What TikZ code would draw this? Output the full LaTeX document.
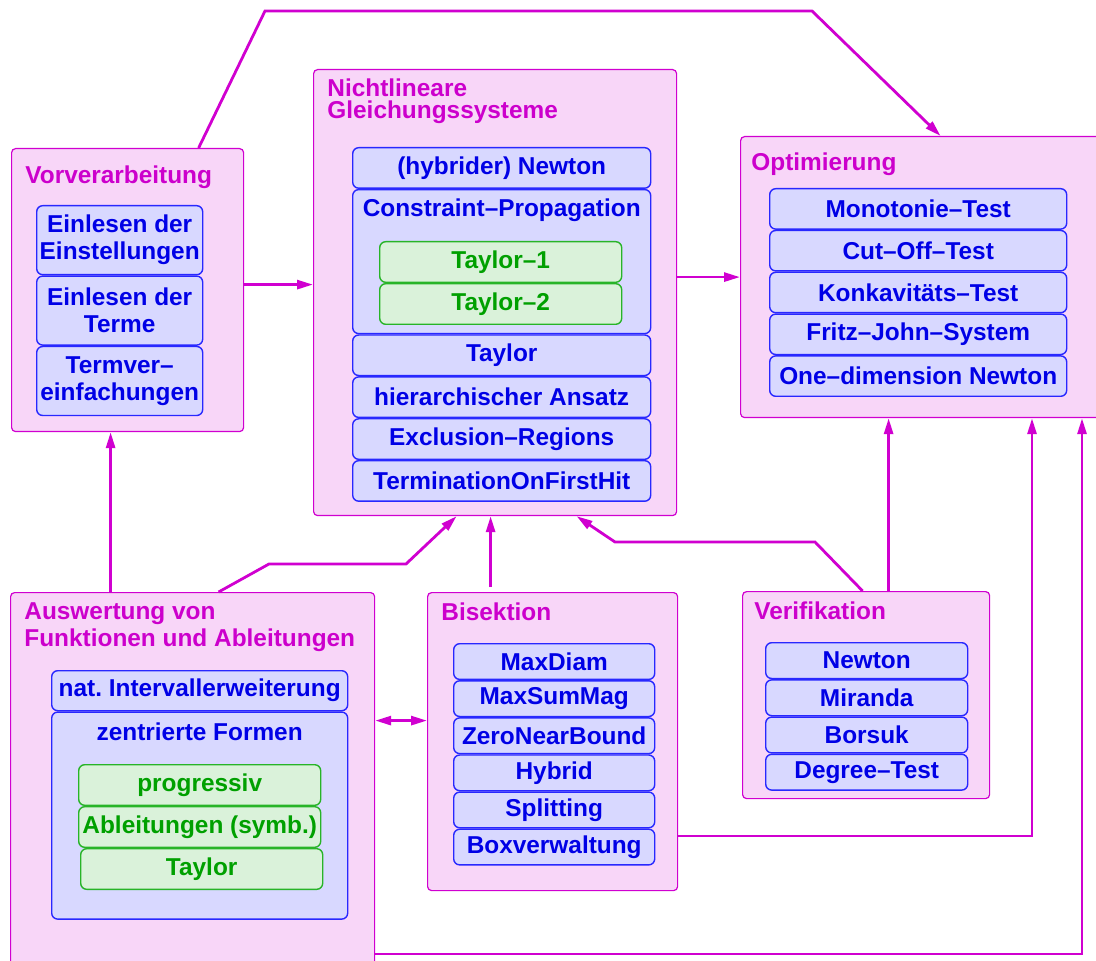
\documentclass[tikz,border=0pt]{standalone}
\usepackage{fontspec}
\setmainfont{Liberation Sans}
\usetikzlibrary{arrows.meta, positioning}
\definecolor{linemag}{RGB}{208,0,208}
\definecolor{titlemag}{RGB}{204,0,204}
\definecolor{grouppink}{RGB}{248,214,248}
\definecolor{itemfill}{RGB}{216,216,255}
\definecolor{itemline}{RGB}{40,40,255}
\definecolor{itemtext}{RGB}{0,0,230}
\definecolor{subfill}{RGB}{218,242,218}
\definecolor{subline}{RGB}{40,180,40}
\definecolor{subtext}{RGB}{0,160,0}
\newcommand{\boxfont}{\fontsize{12.2}{13.5}\selectfont\bfseries}
\frenchspacing
\tikzstyle{group} = [rectangle, draw=linemag, fill=grouppink, line width=0.6pt, rounded corners=2pt, anchor=north west, inner sep=0pt]
\tikzstyle{title} = [anchor=north west, align=left, inner sep=0pt, text=titlemag, font=\boxfont]
\tikzstyle{item} = [rectangle, draw=itemline, fill=itemfill, line width=0.7pt, rounded corners=3pt, align=center, inner sep=0pt, text=itemtext, font=\boxfont]
\tikzstyle{subitem} = [item, draw=subline, fill=subfill, text=subtext]
\tikzstyle{itemlabel} = [anchor=base, inner sep=0pt, text=itemtext, font=\boxfont]
\tikzstyle{vorbox} = [item, minimum width=83pt, minimum height=34.5pt]
\tikzstyle{nichtbox} = [item, minimum width=149pt, minimum height=20.25pt]
\tikzstyle{optbox} = [item, minimum width=148.5pt, minimum height=20.2pt]
\tikzstyle{bisbox} = [item, minimum width=100.5pt, minimum height=17.85pt]
\tikzstyle{verbox} = [item, minimum width=101pt, minimum height=17.9pt]
\tikzstyle{greenbox} = [subitem, minimum width=121pt, minimum height=20.3pt]
\tikzstyle{arrow} = [draw=linemag, line width=1.4pt, -{Triangle[length=8pt, width=4.5pt]}]
\tikzstyle{biarrow} = [draw=linemag, line width=1.4pt, {Triangle[length=8pt, width=4.5pt]}-{Triangle[length=8pt, width=4.5pt]}]
\begin{document}
\begin{tikzpicture}[x=0.5pt, y=-0.5pt]
    \useasboundingbox (0,0) rectangle (1096,961);

    % Groups
    \node (vor)   [group, minimum width=116pt, minimum height=141.5pt] at (11,148) {};
    \node (nicht) [group, minimum width=181.5pt, minimum height=223pt] at (313,69) {};
    \node (opt)   [group, minimum width=190pt, minimum height=140.5pt] at (740,136) {};
    \node (aus)   [group, minimum width=182pt, minimum height=190pt] at (10,592) {};
    \node (bis)   [group, minimum width=125pt, minimum height=149pt] at (427,592) {};
    \node (ver)   [group, minimum width=123.5pt, minimum height=103.5pt] at (742,591) {};

    % Titles
    \node (vor_label)   [title] at (25,165) {Vorverarbeitung};
    \node (nicht_label) [title] at (327,78) {Nichtlineare\\[-2.2pt]Gleichungssysteme};
    \node (opt_label)   [title] at (751,152) {Optimierung};
    \node (aus_label)   [title] at (24,602) {Auswertung von\\Funktionen und Ableitungen};
    \node (bis_label)   [title] at (441,602) {Bisektion};
    \node (ver_label)   [title] at (754,601) {Verifikation};

    % Vorverarbeitung
    \node (vor1) [vorbox, anchor=north west] at (36,205) {Einlesen der\\Einstellungen};
    \node (vor2) [vorbox, below=0pt of vor1] {Einlesen der\\Terme};
    \node (vor3) [vorbox, below=0pt of vor2] {Termver--\\einfachungen};

    % Nichtlineare Gleichungssysteme
    \node (newton) [nichtbox, anchor=north west] at (352,147) {(hybrider) Newton};
    \node (cprop)  [nichtbox, minimum height=72pt, below=0pt of newton] {};
    \node (cprop_label) [itemlabel, yshift=-14pt] at (cprop.north) {Constraint--Propagation};
    \node (taylor1) [greenbox, anchor=north west] at (379,241) {Taylor--1};
    \node (taylor2) [greenbox, below=0pt of taylor1] {Taylor--2};
    \node (taylor) [nichtbox, below=0pt of cprop] {Taylor};
    \node (hier)   [nichtbox, below=0pt of taylor] {hierarchischer Ansatz};
    \node (excl)   [nichtbox, below=0pt of hier] {Exclusion--Regions};
    \node (term)   [nichtbox, below=0pt of excl] {TerminationOnFirstHit};

    % Optimierung
    \node (mono)  [optbox, anchor=north west] at (769,188) {Monotonie--Test};
    \node (cut)   [optbox, below=0pt of mono] {Cut--Off--Test};
    \node (konk)  [optbox, below=0pt of cut] {Konkavitäts--Test};
    \node (fritz) [optbox, below=0pt of konk] {Fritz--John--System};
    \node (onedim)[optbox, below=0pt of fritz] {One--dimension Newton};

    % Auswertung von Funktionen und Ableitungen
    \node (nat)   [item, minimum width=148pt, minimum height=20pt, anchor=north west] at (51,670) {nat. Intervallerweiterung};
    \node (zentr) [item, minimum width=148pt, minimum height=103.5pt, below=0pt of nat] {};
    \node (zentr_label) [itemlabel, yshift=-14.5pt] at (zentr.north) {zentrierte Formen};
    \node (prog)    [greenbox, anchor=north west] at (78,764) {progressiv};
    \node (ableit)  [greenbox, below=0pt of prog] {Ableitungen (symb.)};
    \node (taylor_a)[greenbox, below=0pt of ableit, xshift=1pt] {Taylor};

    % Bisektion
    \node (maxdiam) [bisbox, anchor=north west] at (453,643) {MaxDiam};
    \node (maxsum)  [bisbox, below=0pt of maxdiam] {MaxSumMag};
    \node (zero)    [bisbox, below=0pt of maxsum] {ZeroNearBound};
    \node (hybrid)  [bisbox, below=0pt of zero] {Hybrid};
    \node (split)   [bisbox, below=0pt of hybrid] {Splitting};
    \node (boxv)    [bisbox, below=0pt of split] {Boxverwaltung};

    % Verifikation
    \node (ver_newton) [verbox, anchor=north west] at (765,642) {Newton};
    \node (miranda)    [verbox, below=0pt of ver_newton] {Miranda};
    \node (borsuk)     [verbox, below=0pt of miranda] {Borsuk};
    \node (degree)     [verbox, below=0pt of borsuk] {Degree--Test};

    % ==== Arrows
    \coordinate (vor_out) at ([yshift=2.75pt]vor.east);
    \draw [arrow] (vor_out) -- (vor_out -| nicht.west);
    \draw [arrow] (nicht.east |- opt.west) -- (opt.west);

    % Over the top
    \coordinate (vor_top) at ([xshift=35.5pt]vor.north);
    \coordinate (top_left) at (265,11);
    \coordinate (top_right) at (812,11);
    \draw [arrow] (vor_top) -- (top_left) -- (top_right) -- ([xshift=5pt]opt.north);

    % From below
    \coordinate (aus_up) at ([xshift=-41pt]aus.north);
    \draw [arrow] (aus_up) -- (aus_up |- vor.south);
    \coordinate (aus_bend1) at (269,564);
    \coordinate (aus_bend2) at (406,564);
    \draw [arrow] ([xshift=13pt]aus.north) -- (aus_bend1) -- (aus_bend2) -- ([xshift=-19.25pt]nicht.south);
    \coordinate (bis_up) at ([xshift=-31pt, yshift=2.5pt]bis.north);
    \draw [arrow] (bis_up) -- (bis_up |- nicht.south);
    \coordinate (ver_bend1) at (815,542);
    \coordinate (ver_bend2) at (615,542);
    \draw [arrow] ([xshift=-1.75pt]ver.north) -- (ver_bend1) -- (ver_bend2) -- ([xshift=40.75pt]nicht.south);
    \coordinate (ver_up) at ([xshift=11.25pt]ver.north);
    \draw [arrow] (ver_up) -- (ver_up |- opt.south);

    % Long way round
    \coordinate (bis_corner) at (1032,836);
    \draw [arrow] (bis_corner -| bis.east) -- (bis_corner) -- (bis_corner |- opt.south);
    \coordinate (aus_corner) at (1082,954);
    \draw [arrow] (aus_corner -| aus.east) -- (aus_corner) -- (aus_corner |- opt.south);

    % Both ways
    \coordinate (bis_in) at ([yshift=10.5pt]bis.west);
    \draw [biarrow] (bis_in -| aus.east) -- (bis_in);

\end{tikzpicture}
\end{document}
